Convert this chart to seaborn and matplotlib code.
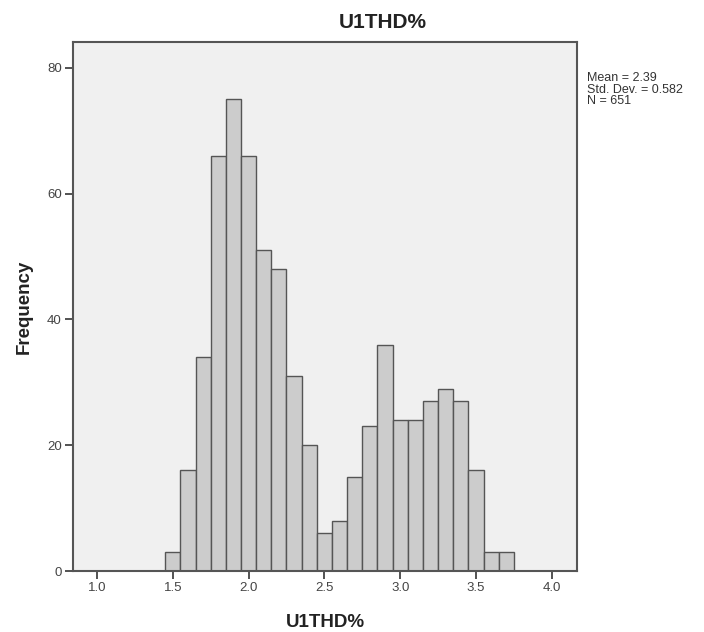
import numpy as np
import pandas as pd
import matplotlib
matplotlib.use("Agg")
import matplotlib.pyplot as plt
import seaborn as sns

# Histogram data (bin width 0.1, first bin starts at 1.45)
bin_start = 1.45
bin_width = 0.1
counts = [3, 16, 34, 66, 75, 66, 51, 48, 31, 20, 6, 8, 15, 23, 36,
          24, 24, 27, 29, 27, 16, 3, 3]
x_ticks = [1.0, 1.5, 2.0, 2.5, 3.0, 3.5, 4.0]
y_ticks = [0, 20, 40, 60, 80]
title = "U1THD%"
x_label = "U1THD%"
y_label = "Frequency"
stats_text = "Mean = 2.39\nStd. Dev. = 0.582\nN = 651"

n_bins = len(counts)
centers = bin_start + bin_width * (np.arange(n_bins) + 0.5)
df = pd.DataFrame({"value": centers, "count": counts})

sns.set_theme(style="white")
plt.rcParams["font.family"] = ["Liberation Sans", "DejaVu Sans"]

fig = plt.figure(figsize=(7.04, 6.32), dpi=100)
ax = fig.add_axes([0.1037, 0.0965, 0.7159, 0.837])
ax.set_facecolor("#F0F0F0")

sns.histplot(data=df, x="value", weights="count",
             binwidth=bin_width,
             binrange=(bin_start, bin_start + bin_width * n_bins),
             ax=ax, color="#CCCCCC", alpha=1.0,
             edgecolor="#555555", linewidth=1.0)

ax.set_xlim(0.842, 4.166)
ax.set_ylim(0, 84.1)
ax.set_xticks(x_ticks)
ax.set_xticklabels([f"{t:.1f}" for t in x_ticks])
ax.set_yticks(y_ticks)
ax.tick_params(axis="both", direction="out", length=5.5, width=1.3,
               color="#444444", labelcolor="#444444", labelsize=9.5, pad=2.5,
               bottom=True, left=True)
for s in ax.spines.values():
    s.set_color("#555555")
    s.set_linewidth(1.5)

ax.set_title(title, fontsize=15, fontweight="bold", color="#222222",
             x=0.615, y=1.0369, va="center", pad=0)
ax.set_xlabel(x_label, fontsize=13.5, fontweight="bold", color="#222222")
ax.set_ylabel(y_label, fontsize=13.5, fontweight="bold", color="#222222")
ax.xaxis.set_label_coords(0.5, -0.0964)
ax.xaxis.label.set_va("center")
ax.yaxis.set_label_coords(-0.0972, 0.5)
ax.yaxis.label.set_va("center")

fig.text(587 / 704, 1 - 72 / 632, stats_text, fontsize=9, color="#333333",
         va="top", ha="left", linespacing=0.95)

fig.savefig("out.png", dpi=100, facecolor="white")
